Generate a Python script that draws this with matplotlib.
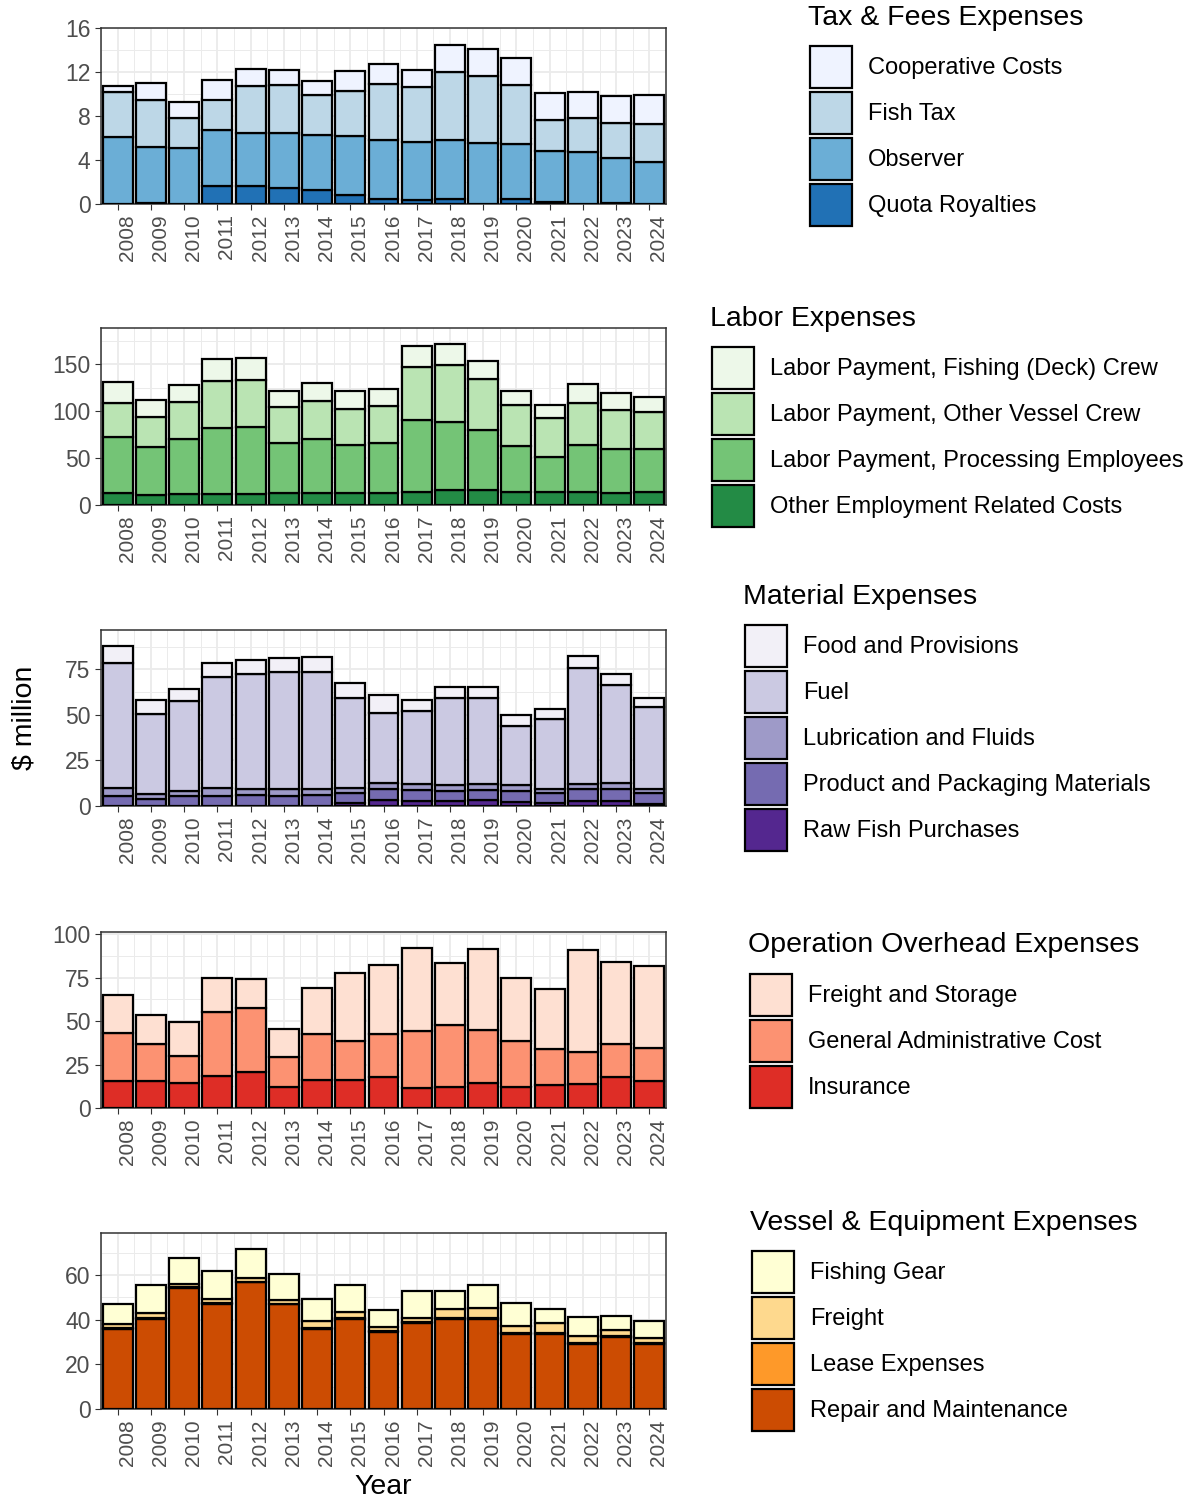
import matplotlib.pyplot as plt
import numpy as np
from matplotlib.ticker import MultipleLocator

plt.rcParams['font.family'] = ['Liberation Sans', 'DejaVu Sans']

years = list(range(2008, 2025))

# Tax & Fees (bottom -> top)
quota_royalties = [0, 0.1, 0, 1.6, 1.6, 1.5, 1.27, 0.8, 0.45, 0.35, 0.45, 0, 0.45, 0.2, 0, 0.05, 0]
observer = [6.05, 5.1, 5.1, 5.1, 4.9, 5.0, 5.0, 5.4, 5.4, 5.3, 5.35, 5.55, 5.0, 4.6, 4.7, 4.1, 3.85]
fish_tax = [4.1, 4.25, 2.7, 2.8, 4.25, 4.3, 3.65, 4.05, 5.05, 5.0, 6.2, 6.05, 5.4, 2.85, 3.1, 3.2, 3.4]
coop_costs = [0.6, 1.55, 1.45, 1.8, 1.5, 1.4, 1.3, 1.85, 1.85, 1.5, 2.5, 2.45, 2.4, 2.4, 2.35, 2.5, 2.65]

# Labor (bottom -> top)
other_employment = [13, 11, 11.8, 11.8, 11.8, 12.9, 12.9, 12.9, 12.9, 14.3, 16, 16, 14.3, 14.3, 13.6, 12.5, 13.6]
processing_pay = [59, 50.8, 58.2, 70.7, 71.4, 52.8, 57.1, 51.4, 53.1, 76.7, 72.6, 63.6, 48.9, 36.7, 50.7, 46.8, 46.4]
vessel_crew_pay = [36.4, 31.8, 39.3, 50, 50, 38.2, 41, 38.2, 39.4, 55.8, 60, 54.7, 43.6, 42.2, 43.9, 41.7, 38.6]
deck_crew_pay = [22.5, 18.5, 18.2, 22.9, 23.2, 17.9, 19, 18.9, 18.2, 22.8, 22.8, 19.6, 15, 12.8, 20.4, 18.3, 16.8]

# Material (bottom -> top)
raw_fish = [0, 0, 0, 0, 0, 0, 0, 1.5, 3.3, 2.8, 2.9, 3.2, 2.3, 1.8, 3.0, 3.0, 1.0]
packaging = [5.5, 4.0, 5.3, 5.5, 5.8, 5.6, 6.0, 5.5, 5.8, 6.0, 5.3, 5.6, 6.0, 5.2, 6.2, 6.3, 5.9]
lubrication = [4.5, 2.7, 2.9, 4.5, 3.5, 3.6, 3.6, 3.0, 3.4, 3.0, 3.3, 3.5, 3.2, 2.4, 3.1, 3.5, 2.6]
fuel = [68.5, 44, 49.5, 60.8, 63.3, 64.2, 63.9, 49.3, 38.8, 40.3, 47.8, 47.2, 32.5, 38.6, 63.6, 53.8, 44.9]
food = [9.3, 7.3, 6.7, 7.7, 7.5, 7.9, 8.3, 8.4, 9.5, 6.2, 6.0, 5.8, 5.8, 5.1, 6.4, 5.7, 4.9]

# Operation Overhead (bottom -> top)
insurance = [15.4, 15.4, 14.6, 18.3, 21, 12.3, 16.3, 16.3, 18.1, 11.5, 11.9, 14.2, 11.9, 13.5, 13.8, 17.7, 15.8]
general_admin = [27.7, 21.5, 15.6, 36.9, 36.7, 16.9, 26.4, 22.5, 24.6, 33.1, 36, 30.8, 26.4, 20.5, 18.7, 19.2, 18.6]
freight_storage = [21.7, 16.8, 19.2, 19.6, 16.7, 16.4, 26.3, 38.9, 39.8, 47.5, 35.6, 46.3, 36.5, 34.7, 58.7, 47.1, 47.1]

# Vessel & Equipment (bottom -> top)
repair_maint = [35.8, 40.5, 54.3, 47.2, 56.8, 46.9, 36, 40.5, 34.5, 38.5, 40.5, 40.5, 33.5, 33.5, 29.3, 32.3, 29.3]
lease = [0.3, 0.3, 0.3, 0.3, 0.3, 0.3, 0.3, 0.3, 0.3, 0.3, 0.4, 0.4, 0.4, 0.5, 0.3, 0.3, 0.3]
freight = [1.8, 2.4, 1.5, 1.9, 1.5, 1.8, 3.0, 2.7, 2.0, 2.1, 4.0, 4.5, 3.2, 4.5, 3.0, 2.7, 2.2]
fishing_gear = [9.3, 12.5, 11.6, 12.6, 13.1, 11.6, 9.8, 12.2, 7.4, 11.8, 7.9, 10.3, 10.5, 6.4, 8.6, 6.2, 7.6]

panels = [
    ("Tax & Fees Expenses",
     [quota_royalties, observer, fish_tax, coop_costs],
     ["Quota Royalties", "Observer", "Fish Tax", "Cooperative Costs"],
     ["#2171B5", "#6BAED6", "#BDD7E7", "#EFF3FF"],
     [0, 4, 8, 12, 16]),
    ("Labor Expenses",
     [other_employment, processing_pay, vessel_crew_pay, deck_crew_pay],
     ["Other Employment Related Costs", "Labor Payment, Processing Employees",
      "Labor Payment, Other Vessel Crew", "Labor Payment, Fishing (Deck) Crew"],
     ["#238B45", "#74C476", "#BAE4B3", "#EDF8E9"],
     [0, 50, 100, 150]),
    ("Material Expenses",
     [raw_fish, packaging, lubrication, fuel, food],
     ["Raw Fish Purchases", "Product and Packaging Materials", "Lubrication and Fluids",
      "Fuel", "Food and Provisions"],
     ["#54278F", "#756BB1", "#9E9AC8", "#CBC9E2", "#F2F0F7"],
     [0, 25, 50, 75]),
    ("Operation Overhead Expenses",
     [insurance, general_admin, freight_storage],
     ["Insurance", "General Administrative Cost", "Freight and Storage"],
     ["#DE2D26", "#FC9272", "#FEE0D2"],
     [0, 25, 50, 75, 100]),
    ("Vessel & Equipment Expenses",
     [repair_maint, lease, freight, fishing_gear],
     ["Repair and Maintenance", "Lease Expenses", "Freight", "Fishing Gear"],
     ["#CC4C02", "#FE9929", "#FED98E", "#FFFFD4"],
     [0, 20, 40, 60]),
]

W, H = 1194, 1502
fig = plt.figure(figsize=(W / 100, H / 100), dpi=100)

# panel pixel extents (top, bottom); legend title (x, y centre); legend keys (left, top)
panel_px = [(28, 204), (328, 505), (630, 806), (932, 1108), (1233, 1409)]
title_px = [(808, 18), (710, 319), (743, 597), (748, 945), (750, 1223)]
keys_px = [(810, 46), (712, 347), (745, 625), (750, 974), (752, 1251)]

for (title, series, labels, colors, yticks), (top, bot), (tx, ty), (lx, ly) in zip(
        panels, panel_px, title_px, keys_px):
    ax = fig.add_axes([101 / W, 1 - bot / H, 565 / W, (bot - top) / H])
    bottom = np.zeros(len(years))
    handles = []
    for vals, lab, col in zip(series, labels, colors):
        b = ax.bar(years, vals, bottom=bottom, width=0.9, color=col,
                   edgecolor='black', linewidth=1.6, label=lab, zorder=3)
        handles.append(b)
        bottom = bottom + np.array(vals)
    ax.set_ylim(0, bottom.max() * 1.1)
    ax.set_xlim(2007.5, 2024.5)
    ax.set_yticks(yticks)
    ax.set_xticks(years)
    ax.set_xticklabels([str(y) for y in years], rotation=90, ha='left')
    ax.xaxis.set_minor_locator(MultipleLocator(0.5))
    ax.yaxis.set_minor_locator(MultipleLocator(yticks[1] / 2))
    ax.grid(which='major', color='#EBEBEB', linewidth=1.3, zorder=0)
    ax.grid(which='minor', color='#EBEBEB', linewidth=0.7, zorder=0)
    ax.tick_params(which='minor', length=0)
    ax.tick_params(axis='y', labelsize=16.5, colors='#333333', labelcolor='#4D4D4D', length=4)
    ax.tick_params(axis='x', labelsize=15, colors='#333333', labelcolor='#4D4D4D', length=4)
    for s in ax.spines.values():
        s.set_color('#333333')
        s.set_linewidth(1.1)
    fig.text(tx / W, 1 - ty / H, title, ha='left', va='center', fontsize=20.5)
    ax.legend(handles[::-1], labels[::-1], frameon=False,
              loc='upper left', bbox_to_anchor=(lx / W, 1 - ly / H),
              bbox_transform=fig.transFigure, fontsize=17,
              handlelength=1.78, handleheight=2.36, labelspacing=0.17,
              handletextpad=0.68, borderpad=0, borderaxespad=0)

fig.text(25 / W, 1 - 718 / H, "$ million", rotation=90, ha='center', va='center', fontsize=20.5)
fig.text(383 / W, 1 - 1487 / H, "Year", ha='center', va='center', fontsize=20.5)

fig.savefig("out.png", dpi=100)
